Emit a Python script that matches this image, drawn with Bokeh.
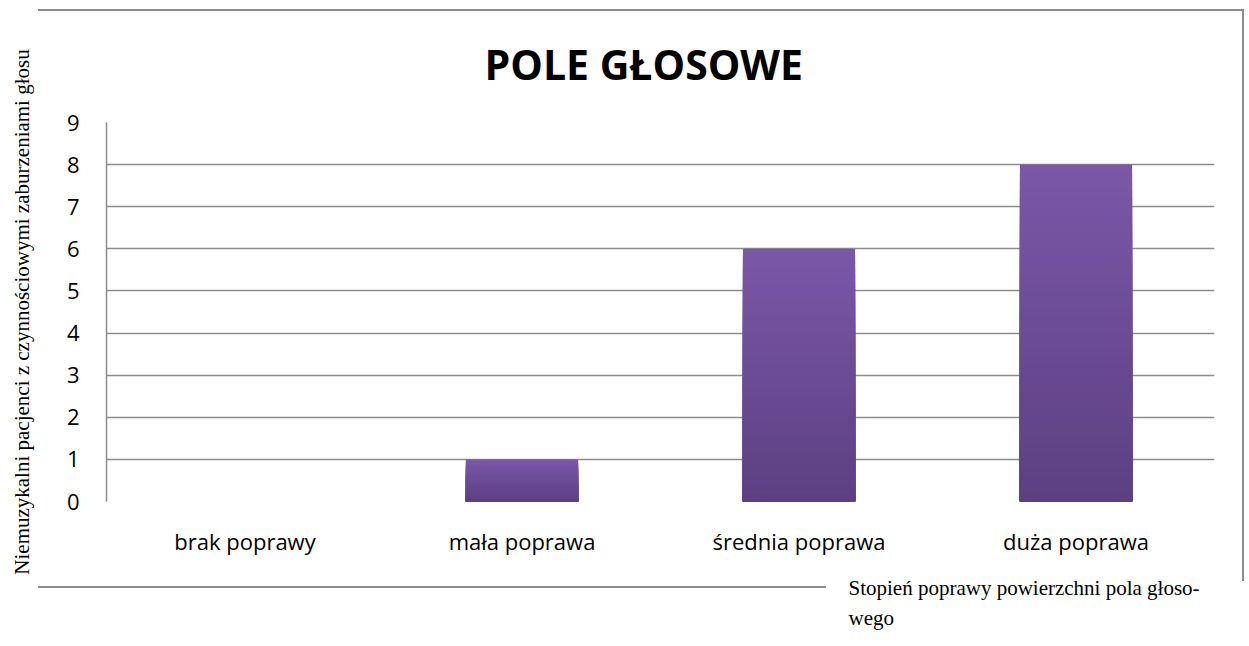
from bokeh.plotting import figure
from bokeh.models import FactorRange, Range1d, ColumnDataSource, Title, InlineStyleSheet
from bokeh.embed import file_html
from bokeh.resources import INLINE

categories = ["brak poprawy", "mała poprawa", "średnia poprawa", "duża poprawa"]
values = [0, 1, 6, 8]
y_ticks = [0, 1, 2, 3, 4, 5, 6, 7, 8, 9]
title_text = "POLE GŁOSOWE"
y_title = "Niemuzykalni pacjenci z czynnościowymi zaburzeniami głosu"
x_title_lines = ["Stopień poprawy powierzchni pola głoso-", "wego"]

W, H = 1249, 646
FL, FR, FT, FB = 106, 1214, 122, 501  # frame edges in canvas px
GRID = "#8c8c8c"

css = """
:host::before {
  content: ''; position: absolute; left: 38px; top: 9px; width: 1204px; height: 570px;
  border-top: 2px solid %(c)s; border-right: 2px solid %(c)s; pointer-events: none; z-index: 10;
}
:host::after {
  content: ''; position: absolute; left: 38px; top: 586px; width: 788px; height: 0px;
  border-top: 2px solid %(c)s; pointer-events: none; z-index: 10;
}
""" % {"c": GRID}

p = figure(width=W, height=H, x_range=FactorRange(*categories, range_padding=0),
           y_range=Range1d(0, 9), output_backend="svg", toolbar_location=None,
           min_border_left=FL, min_border_right=W - FR, min_border_top=FT,
           min_border_bottom=H - FB, stylesheets=[InlineStyleSheet(css=css)])
p.outline_line_color = None
p.background_fill_color = "white"
p.border_fill_color = "white"

p.title.text = title_text
p.title.align = "left"
p.title.offset = 378
p.title.text_font = "Open Sans"
p.title.text_font_style = "bold"
p.title.text_font_size = "41px"
p.title.text_color = "black"
p.title.standoff = 62

p.xgrid.grid_line_color = None
p.ygrid.grid_line_color = GRID
p.ygrid.grid_line_width = 1.5
p.yaxis.ticker = y_ticks
p.yaxis.major_tick_line_color = None
p.yaxis.minor_tick_line_color = None
p.yaxis.axis_line_color = GRID
p.yaxis.axis_line_width = 1.5
p.yaxis.major_label_standoff = 21
p.yaxis.major_label_text_font = "Open Sans"
p.yaxis.major_label_text_font_size = "22px"
p.yaxis.major_label_text_color = "black"
p.yaxis.axis_label = y_title
p.yaxis.axis_label_standoff = 30
p.yaxis.axis_label_text_font = "Liberation Serif"
p.yaxis.axis_label_text_font_size = "21px"
p.yaxis.axis_label_text_font_style = "normal"
p.yaxis.axis_label_text_color = "black"

p.xaxis.axis_line_color = None
p.xaxis.major_tick_line_color = None
p.xaxis.minor_tick_line_color = None
p.xaxis.major_label_standoff = 18
p.xaxis.major_label_text_font = "Open Sans"
p.xaxis.major_label_text_font_size = "22px"
p.xaxis.major_label_text_color = "black"

# x-axis title: two left-aligned lines below the axis
p.add_layout(Title(text="\n".join(x_title_lines), align="left", offset=848 - FL, standoff=30,
                   text_font="Liberation Serif", text_font_size="21px", text_line_height=1.29,
                   text_font_style="normal", text_color="black"), "below")

# gradient bars built from the values: nested overlapping bars, light top to dark bottom
N = 40
top_rgb = (0x7B, 0x57, 0xA8)
bot_rgb = (0x5C, 0x40, 0x82)
xs, bots, tops, cols = [], [], [], []
for k in range(N):
    frac = (N - k) / N
    t = (N - k - 0.5) / N
    c = tuple(int(round(bot_rgb[j] + (top_rgb[j] - bot_rgb[j]) * t)) for j in range(3))
    for cat, v in zip(categories, values):
        if v <= 0:
            continue
        xs.append(cat)
        bots.append(0)
        tops.append(v * frac)
        cols.append("#%02x%02x%02x" % c)
src = ColumnDataSource(dict(x=xs, bottom=bots, top=tops, color=cols))
p.vbar(x="x", bottom="bottom", top="top", width=0.405, fill_color="color", line_color=None,
       source=src)

open("out.html", "w").write(file_html(p, INLINE))
